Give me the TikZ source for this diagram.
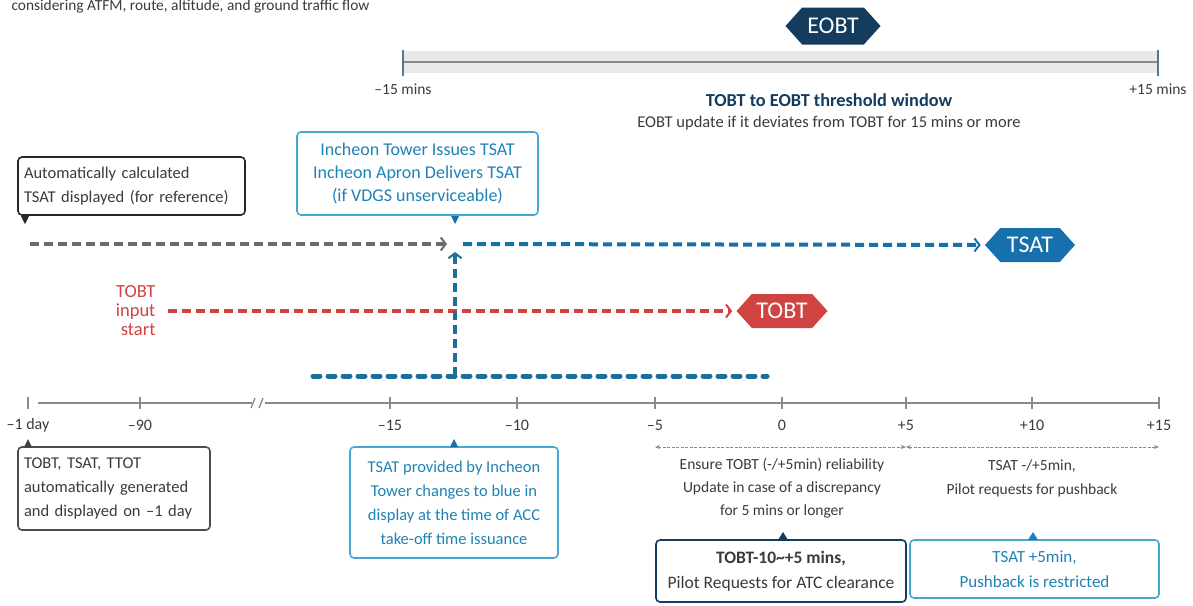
\documentclass[tikz,border=0pt]{standalone}
\usepackage{fontspec}
\setmainfont{Carlito}
\usetikzlibrary{shapes.symbols,arrows.meta,positioning}

\definecolor{navy}{HTML}{143C5F}
\definecolor{tsatblue}{HTML}{1670AC}
\definecolor{skyline}{HTML}{46A8D2}
\definecolor{skytext}{HTML}{1D82B5}
\definecolor{tobtred}{HTML}{CF4440}
\definecolor{dashgray}{HTML}{6B6B6B}
\definecolor{teal}{HTML}{1B6F99}
\definecolor{axisgray}{HTML}{8A8A8A}
\definecolor{bandgray}{HTML}{E9E9EC}
\definecolor{txtgray}{HTML}{3A3A3A}

\begin{document}
\begin{tikzpicture}[x=1pt, y=-1pt,
  tag/.style={signal, signal to=east and west, signal pointer angle=96, text=white, inner xsep=2pt, font=\fontsize{24}{24}\selectfont},
  note/.style={draw, rounded corners=4pt, line width=1.6pt, font=\fontsize{16.5}{24}\selectfont, inner sep=0pt},
  flow/.style={line width=4pt, dash pattern=on 9pt off 5pt, -{Straight Barb[length=5pt,width=13pt,line width=2pt]}},
  tickmark/.style={line width=1.3pt, draw=axisgray},
  ticklab/.style={font=\fontsize{16}{16}\selectfont, text=txtgray},
  span/.style={draw=axisgray, line width=0.7pt, dash pattern=on 3pt off 1.5pt, {Stealth[length=5pt,width=4pt]}-{Stealth[length=5pt,width=4pt]}}]

\useasboundingbox (0,0) rectangle (1193,605);

% caption (cut at top)
\node[anchor=west, text=txtgray, font=\fontsize{15.4}{15.4}\selectfont] (cap) at (8,6) {considering ATFM, route, altitude, and ground traffic flow};

% threshold window
\fill[bandgray] (403,51) rectangle (1158,73);
\draw[line width=1.5pt, draw=axisgray] (403,62) -- (1158,62);
\draw[tickmark, draw=navy!70] (403,50) -- (403,76);
\draw[tickmark, draw=navy!70] (1158,50) -- (1158,76);
\node[tag, fill=navy, minimum width=95pt, minimum height=37pt] (eobt) at (833,26) {EOBT};
\node[font=\fontsize{15.5}{15.5}\selectfont, text=txtgray] (wl) at (403,89) {–15 mins};
\node[font=\fontsize{15.5}{15.5}\selectfont, text=txtgray] (wr) at (1158,89) {+15 mins};
\node[font=\bfseries\fontsize{18.3}{18.3}\selectfont, text=navy] (wtitle) at (829,100) {TOBT to EOBT threshold window};
\node[font=\fontsize{16.5}{16.5}\selectfont, text=txtgray, below=2pt of wtitle] (wsub) {EOBT update if it deviates from TOBT for 15 mins or more};

% notes above
\node[note, draw=black!85, text=txtgray, align=left, text width=215pt, inner xsep=6pt, minimum height=58pt] (calc) at (131.5,186) {Automatically calculated\\TSAT displayed (for reference)};
\node[note, draw=skyline, text=skytext, align=center, minimum width=241pt, minimum height=83pt, font=\fontsize{18}{23}\selectfont] (issue) at (417.5,173.5) {Incheon Tower Issues TSAT\\Incheon Apron Delivers TSAT\\(if VDGS unserviceable)};
\fill[black!85] (21,216) -- (29,216) -- (25,224) -- cycle;
\fill[tsatblue] (451,216) -- (459,216) -- (455,224) -- cycle;

% flows
\coordinate (gstart) at (30,244);
\coordinate (meet) at (455,244);
\coordinate (bstart) at (313,376);
\coordinate (bend) at (767,376);
\coordinate (bjoin) at (455,376);
\node[tag, fill=tsatblue, minimum width=90pt, minimum height=34pt] (tsat) at (1030,245) {TSAT};
\node[tag, fill=tobtred, minimum width=91pt, minimum height=34pt] (tobt) at (782,311) {TOBT};
\node[anchor=east, align=right, text=tobtred, font=\fontsize{18.5}{19}\selectfont] (tobtin) at (159,311) {TOBT\\input\\start};

\draw[flow, draw=dashgray] (gstart) -- ([xshift=-8pt]meet);
\draw[flow, draw=tsatblue, shorten >=4pt] ([xshift=8pt]meet) -- (tsat.west);
\draw[flow, draw=tobtred, shorten <=9pt, shorten >=4pt] (tobtin.east) -- (tobt.west);
\draw[line width=5pt, draw=teal, line cap=round, dash pattern=on 7pt off 8pt] (bstart) -- (bend);
\draw[flow, draw=teal] (bjoin) -- ([yshift=-8pt]meet);

% axis
\draw[tickmark] (38,403) -- (252,403);
\draw[tickmark] (265,403) -- (1159,403);
\draw[tickmark] (251,408) -- (255,398);
\draw[tickmark] (259,408) -- (263,398);
\foreach \nm/\x/\lab in {day/28/–1 day, m90/140/–90, m15/390/–15, m10/517/–10, m5/655/–5, z/782/0, p5/906/+5, p10/1032/+10, p15/1159/+15}{
  \coordinate (t\nm) at (\x,403);
  \draw[tickmark] (\x,397) -- (\x,409);
  \node[ticklab] (l\nm) at (\x,425) {\lab};
}

% spans
\draw[span] ([yshift=-44pt]tm5) -- ([yshift=-44pt]tp5);
\draw[span] ([yshift=-44pt]tp5) -- ([yshift=-44pt]tp15);
\node[font=\fontsize{15.5}{23}\selectfont, text=txtgray, align=center] (ensure) at (782,488) {Ensure TOBT (-/+5min) reliability\\Update in case of a discrepancy\\for 5 mins or longer};
\node[font=\fontsize{15.5}{24}\selectfont, text=txtgray, align=center] (push) at (1032,478) {TSAT -/+5min,\\Pilot requests for pushback};

% notes below
\node[note, draw=black!70, text=txtgray, align=left, text width=180pt, inner xsep=6pt, minimum height=83pt] (gen) at (114,488.5) {TOBT, TSAT, TTOT\\automatically generated\\and displayed on –1 day};
\node[note, draw=skyline, text=skytext, align=center, minimum width=208pt, minimum height=111pt] (provide) at (454,502.5) {TSAT provided by Incheon\\Tower changes to blue in\\display at the time of ACC\\take-off time issuance};
\node[note, draw=navy, text=txtgray, align=center, minimum width=250pt, minimum height=62pt, font=\fontsize{17.5}{25}\selectfont] (atc) at (781,571) {\textbf{TOBT-10\textasciitilde+5 mins,}\\Pilot Requests for ATC clearance};
\node[note, draw=skyline, text=skytext, align=center, minimum width=249pt, minimum height=58pt, font=\fontsize{17}{25}\selectfont] (restr) at (1034.5,569) {TSAT +5min,\\Pushback is restricted};
\fill[black!75] (24,447) -- (32,447) -- (28,439) -- cycle;
\fill[tsatblue] (450,447) -- (458,447) -- (454,439) -- cycle;
\fill[navy] (778,540) -- (788,540) -- (783,532) -- cycle;
\fill[skytext] (1028,540) -- (1038,540) -- (1033,532) -- cycle;
\end{tikzpicture}
\end{document}
